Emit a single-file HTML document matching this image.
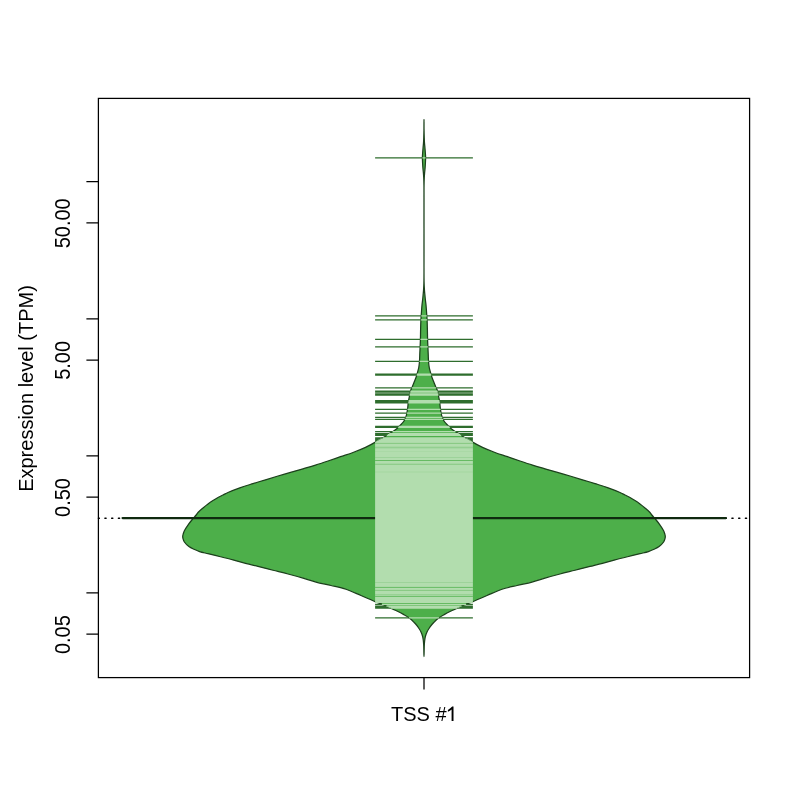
<!DOCTYPE html>
<html><head><meta charset="utf-8"><style>
html,body{margin:0;padding:0;background:#fff;width:800px;height:800px;overflow:hidden}
svg{display:block;will-change:transform}
text{font-family:"Liberation Sans",sans-serif}
</style></head><body>
<svg width="800" height="800" viewBox="0 0 800 800">
<rect width="800" height="800" fill="#fff"/>
<line x1="98.40" y1="518.2" x2="749.6" y2="518.2" stroke="#000" stroke-width="1.35" stroke-linecap="round" stroke-dasharray="1.250 5.492" stroke-dashoffset="0.267"/>
<path d="M424.00,119.30 C424.02,119.30 424.00,126.69 424.05,130.00 C424.09,132.86 424.16,135.65 424.25,138.00 C424.32,139.86 424.38,141.33 424.50,143.00 C424.62,144.67 424.81,146.33 424.95,148.00 C425.09,149.67 425.24,151.38 425.35,153.00 C425.45,154.54 425.58,155.92 425.60,157.50 C425.62,159.24 425.49,161.21 425.40,163.00 C425.32,164.71 425.23,166.33 425.10,168.00 C424.97,169.67 424.74,171.33 424.60,173.00 C424.46,174.67 424.34,176.19 424.25,178.00 C424.14,180.14 424.09,182.23 424.05,185.00 C423.99,189.06 424.03,193.54 424.02,200.00 C424.01,211.80 424.00,235.06 424.02,250.00 C424.03,262.14 423.92,276.06 424.10,283.00 C424.18,286.20 424.30,287.86 424.45,290.00 C424.58,291.81 424.74,293.33 424.90,295.00 C425.06,296.67 425.22,298.33 425.40,300.00 C425.58,301.67 425.83,303.33 426.00,305.00 C426.17,306.67 426.27,308.33 426.40,310.00 C426.52,311.67 426.63,313.33 426.75,315.00 C426.87,316.67 427.00,318.05 427.10,320.00 C427.24,322.76 427.32,326.67 427.40,330.00 C427.48,333.33 427.48,336.33 427.60,340.00 C427.74,344.50 428.09,351.08 428.25,355.00 C428.36,357.53 428.33,359.17 428.50,361.25 C428.67,363.34 428.89,365.54 429.25,367.50 C429.58,369.27 430.04,370.84 430.50,372.50 C430.96,374.17 431.42,375.85 432.00,377.50 C432.59,379.18 433.36,380.88 434.00,382.50 C434.61,384.04 435.17,385.66 435.75,387.00 C436.23,388.11 436.79,388.91 437.20,390.00 C437.66,391.22 438.07,392.85 438.30,394.00 C438.47,394.85 438.45,395.31 438.60,396.25 C438.85,397.81 439.47,400.53 439.75,402.50 C440.00,404.25 440.04,405.84 440.25,407.50 C440.46,409.17 440.67,410.84 441.00,412.50 C441.33,414.17 441.70,416.01 442.25,417.50 C442.73,418.80 443.29,419.92 444.00,421.00 C444.71,422.08 445.59,423.02 446.50,424.00 C447.45,425.03 448.87,426.21 449.60,427.00 C450.04,427.48 450.13,427.76 450.60,428.20 C451.37,428.92 453.07,430.04 454.00,430.70 C454.63,431.15 454.97,431.41 455.60,431.80 C456.43,432.32 457.65,432.90 458.60,433.50 C459.51,434.07 460.49,434.78 461.20,435.30 C461.71,435.67 461.98,435.94 462.50,436.30 C463.23,436.79 464.24,437.39 465.20,437.90 C466.26,438.46 467.67,439.01 468.60,439.50 C469.27,439.86 469.74,440.15 470.30,440.50 C470.87,440.85 471.50,441.26 472.00,441.60 C472.41,441.88 472.53,442.05 473.10,442.40 C474.68,443.39 479.10,445.81 482.50,447.40 C486.33,449.19 490.81,450.94 495.00,452.50 C499.14,454.04 503.34,455.28 507.50,456.70 C511.67,458.12 515.83,459.60 520.00,461.00 C524.16,462.40 528.32,463.80 532.50,465.10 C536.66,466.40 540.83,467.58 545.00,468.80 C549.16,470.02 553.33,471.20 557.50,472.40 C561.67,473.60 565.84,474.77 570.00,476.00 C574.17,477.23 578.33,478.53 582.50,479.80 C586.67,481.07 590.84,482.30 595.00,483.60 C599.17,484.90 603.36,486.13 607.50,487.60 C611.69,489.09 616.80,491.07 620.00,492.50 C622.07,493.42 623.33,494.17 625.00,495.00 C626.67,495.83 628.35,496.59 630.00,497.50 C631.68,498.42 633.35,499.43 635.00,500.50 C636.69,501.59 638.35,502.77 640.00,504.00 C641.69,505.26 643.35,506.60 645.00,508.00 C646.69,509.43 648.80,511.16 650.00,512.50 C650.81,513.41 651.06,514.07 651.80,515.00 C652.84,516.30 654.46,517.93 655.75,519.50 C657.09,521.13 658.43,522.79 659.70,524.60 C661.05,526.52 662.73,528.98 663.60,530.75 C664.20,531.97 664.51,532.99 664.80,534.00 C665.04,534.85 665.27,535.62 665.30,536.40 C665.33,537.15 665.21,537.80 665.00,538.60 C664.72,539.63 664.36,540.86 663.60,542.00 C662.60,543.49 660.74,545.27 659.10,546.50 C657.53,547.68 655.76,548.46 654.00,549.30 C652.20,550.16 650.48,550.92 648.40,551.60 C645.91,552.42 643.08,552.94 640.00,553.70 C636.25,554.63 631.66,555.72 627.50,556.75 C623.33,557.78 619.16,558.81 615.00,559.90 C610.83,560.99 606.67,562.21 602.50,563.30 C598.34,564.39 594.36,565.35 590.00,566.45 C585.23,567.66 580.00,568.99 575.00,570.25 C570.00,571.51 564.99,572.69 560.00,574.00 C554.99,575.31 549.81,576.70 545.00,578.10 C540.50,579.41 536.51,580.90 532.00,582.10 C527.20,583.38 521.99,584.31 517.00,585.50 C511.99,586.69 506.94,587.61 502.00,589.25 C496.94,590.93 491.95,593.39 487.00,595.50 C482.12,597.58 476.37,600.20 472.50,601.80 C469.95,602.85 467.85,603.62 466.10,604.30 C464.88,604.77 464.26,604.96 463.00,605.50 C460.94,606.38 457.48,608.10 455.00,609.25 C452.86,610.24 450.89,611.05 449.00,612.00 C447.24,612.89 445.66,613.80 444.00,614.75 C442.32,615.71 440.36,616.81 439.00,617.75 C438.00,618.45 437.31,619.02 436.50,619.75 C435.64,620.52 434.82,621.39 434.00,622.25 C433.16,623.14 432.31,624.00 431.50,625.00 C430.63,626.07 429.76,627.31 429.00,628.50 C428.26,629.65 427.58,630.77 427.00,632.00 C426.41,633.27 425.88,634.65 425.50,636.00 C425.13,637.32 424.95,638.59 424.75,640.00 C424.53,641.57 424.42,642.99 424.30,645.00 C424.12,648.04 424.10,656.50 424.00,656.50 C423.90,656.50 423.88,648.04 423.70,645.00 C423.58,642.99 423.47,641.57 423.25,640.00 C423.05,638.59 422.87,637.32 422.50,636.00 C422.12,634.65 421.59,633.27 421.00,632.00 C420.42,630.77 419.74,629.65 419.00,628.50 C418.24,627.31 417.37,626.07 416.50,625.00 C415.69,624.00 414.84,623.14 414.00,622.25 C413.18,621.39 412.36,620.52 411.50,619.75 C410.69,619.02 410.00,618.45 409.00,617.75 C407.64,616.81 405.68,615.71 404.00,614.75 C402.34,613.80 400.76,612.89 399.00,612.00 C397.11,611.05 395.14,610.24 393.00,609.25 C390.52,608.10 387.06,606.38 385.00,605.50 C383.74,604.96 383.12,604.77 381.90,604.30 C380.15,603.62 378.05,602.85 375.50,601.80 C371.63,600.20 365.88,597.58 361.00,595.50 C356.05,593.39 351.06,590.93 346.00,589.25 C341.06,587.61 336.01,586.69 331.00,585.50 C326.01,584.31 320.80,583.38 316.00,582.10 C311.49,580.90 307.50,579.41 303.00,578.10 C298.19,576.70 293.01,575.31 288.00,574.00 C283.01,572.69 278.00,571.51 273.00,570.25 C268.00,568.99 262.77,567.66 258.00,566.45 C253.64,565.35 249.66,564.39 245.50,563.30 C241.33,562.21 237.17,560.99 233.00,559.90 C228.84,558.81 224.67,557.78 220.50,556.75 C216.34,555.72 211.75,554.63 208.00,553.70 C204.92,552.94 202.09,552.42 199.60,551.60 C197.52,550.92 195.80,550.16 194.00,549.30 C192.24,548.46 190.47,547.68 188.90,546.50 C187.26,545.27 185.40,543.49 184.40,542.00 C183.64,540.86 183.28,539.63 183.00,538.60 C182.79,537.80 182.67,537.15 182.70,536.40 C182.73,535.62 182.96,534.85 183.20,534.00 C183.49,532.99 183.80,531.97 184.40,530.75 C185.27,528.98 186.95,526.52 188.30,524.60 C189.57,522.79 190.91,521.13 192.25,519.50 C193.54,517.93 195.16,516.30 196.20,515.00 C196.94,514.07 197.19,513.41 198.00,512.50 C199.20,511.16 201.31,509.43 203.00,508.00 C204.65,506.60 206.31,505.26 208.00,504.00 C209.65,502.77 211.31,501.59 213.00,500.50 C214.65,499.43 216.32,498.42 218.00,497.50 C219.65,496.59 221.33,495.83 223.00,495.00 C224.67,494.17 225.93,493.42 228.00,492.50 C231.20,491.07 236.31,489.09 240.50,487.60 C244.64,486.13 248.83,484.90 253.00,483.60 C257.16,482.30 261.33,481.07 265.50,479.80 C269.67,478.53 273.83,477.23 278.00,476.00 C282.16,474.77 286.33,473.60 290.50,472.40 C294.67,471.20 298.84,470.02 303.00,468.80 C307.17,467.58 311.34,466.40 315.50,465.10 C319.68,463.80 323.84,462.40 328.00,461.00 C332.17,459.60 336.33,458.12 340.50,456.70 C344.66,455.28 348.86,454.04 353.00,452.50 C357.19,450.94 361.67,449.19 365.50,447.40 C368.90,445.81 373.32,443.39 374.90,442.40 C375.47,442.05 375.59,441.88 376.00,441.60 C376.50,441.26 377.13,440.85 377.70,440.50 C378.26,440.15 378.73,439.86 379.40,439.50 C380.33,439.01 381.74,438.46 382.80,437.90 C383.76,437.39 384.77,436.79 385.50,436.30 C386.02,435.94 386.29,435.67 386.80,435.30 C387.51,434.78 388.49,434.07 389.40,433.50 C390.35,432.90 391.57,432.32 392.40,431.80 C393.03,431.41 393.37,431.15 394.00,430.70 C394.93,430.04 396.63,428.92 397.40,428.20 C397.87,427.76 397.96,427.48 398.40,427.00 C399.13,426.21 400.55,425.03 401.50,424.00 C402.41,423.02 403.29,422.08 404.00,421.00 C404.71,419.92 405.27,418.80 405.75,417.50 C406.30,416.01 406.67,414.17 407.00,412.50 C407.33,410.84 407.54,409.17 407.75,407.50 C407.96,405.84 408.00,404.25 408.25,402.50 C408.53,400.53 409.15,397.81 409.40,396.25 C409.55,395.31 409.53,394.85 409.70,394.00 C409.93,392.85 410.34,391.22 410.80,390.00 C411.21,388.91 411.77,388.11 412.25,387.00 C412.83,385.66 413.39,384.04 414.00,382.50 C414.64,380.88 415.41,379.18 416.00,377.50 C416.58,375.85 417.04,374.17 417.50,372.50 C417.96,370.84 418.42,369.27 418.75,367.50 C419.11,365.54 419.33,363.34 419.50,361.25 C419.67,359.17 419.64,357.53 419.75,355.00 C419.91,351.08 420.26,344.50 420.40,340.00 C420.52,336.33 420.52,333.33 420.60,330.00 C420.68,326.67 420.76,322.76 420.90,320.00 C421.00,318.05 421.13,316.67 421.25,315.00 C421.37,313.33 421.48,311.67 421.60,310.00 C421.73,308.33 421.83,306.67 422.00,305.00 C422.17,303.33 422.42,301.67 422.60,300.00 C422.78,298.33 422.94,296.67 423.10,295.00 C423.26,293.33 423.42,291.81 423.55,290.00 C423.70,287.86 423.82,286.20 423.90,283.00 C424.08,276.06 423.97,262.14 423.98,250.00 C424.00,235.06 423.99,211.80 423.98,200.00 C423.97,193.54 424.01,189.06 423.95,185.00 C423.91,182.23 423.86,180.14 423.75,178.00 C423.66,176.19 423.54,174.67 423.40,173.00 C423.26,171.33 423.03,169.67 422.90,168.00 C422.77,166.33 422.68,164.71 422.60,163.00 C422.51,161.21 422.38,159.24 422.40,157.50 C422.42,155.92 422.55,154.54 422.65,153.00 C422.76,151.38 422.91,149.67 423.05,148.00 C423.19,146.33 423.38,144.67 423.50,143.00 C423.62,141.33 423.68,139.86 423.75,138.00 C423.84,135.65 423.91,132.86 423.95,130.00 C424.00,126.69 423.98,119.30 424.00,119.30 Z" fill="#4DAF4A" stroke="#1C401C" stroke-width="1.25" stroke-linejoin="round"/>
<line x1="122.6" y1="518.1" x2="725.9" y2="518.1" stroke="#0F2A0F" stroke-width="2.3" stroke-linecap="round"/>
<path d="M375.10,157.80H422.41M425.59,157.80H472.90M375.10,315.80H421.19M426.81,315.80H472.90M375.10,319.80H420.91M427.09,319.80H472.90M375.10,339.40H420.41M427.59,339.40H472.90M375.10,346.90H420.10M427.90,346.90H472.90M375.10,361.30H419.49M428.51,361.30H472.90M375.10,374.00H417.05M430.95,374.00H472.90M375.10,375.10H416.72M431.28,375.10H472.90M375.10,387.90H411.81M436.19,387.90H472.90M375.10,391.00H410.52M437.48,391.00H472.90M375.10,392.20H410.19M437.81,392.20H472.90M375.10,393.90H409.73M438.27,393.90H472.90M375.10,395.00H409.57M438.43,395.00H472.90M375.10,400.70H408.58M439.42,400.70H472.90M375.10,401.80H408.38M439.62,401.80H472.90M375.10,402.90H408.21M439.79,402.90H472.90M375.10,409.30H407.48M440.52,409.30H472.90M375.10,413.00H406.88M441.12,413.00H472.90M375.10,417.40H405.77M442.23,417.40H472.90M375.10,419.30H404.85M443.15,419.30H472.90M375.10,426.30H399.12M448.88,426.30H472.90M375.10,427.30H398.15M449.85,427.30H472.90M375.10,431.70H392.55M455.45,431.70H472.90M375.10,433.60H389.26M458.74,433.60H472.90M375.10,434.50H387.96M460.04,434.50H472.90M375.10,435.30H386.80M461.20,435.30H472.90M375.10,437.90H382.80M465.20,437.90H472.90M375.10,439.00H380.46M467.54,439.00H472.90M375.10,440.00H378.55M469.45,440.00H472.90M375.10,441.00H376.93M471.07,441.00H472.90M375.10,441.80H375.73M472.27,441.80H472.90M375.10,604.30H381.90M466.10,604.30H472.90M375.10,606.20H386.49M461.51,606.20H472.90M375.10,607.20H388.63M459.37,607.20H472.90M375.10,608.20H390.76M457.24,608.20H472.90M375.10,617.75H409.00M439.00,617.75H472.90" stroke="#2E6D2D" stroke-width="1.25" fill="none"/>
<path d="M422.41,157.80H425.59M421.19,315.80H426.81M420.91,319.80H427.09M420.41,339.40H427.59M420.10,346.90H427.90M419.49,361.30H428.51M417.05,374.00H430.95M416.72,375.10H431.28M411.81,387.90H436.19M410.52,391.00H437.48M410.19,392.20H437.81M409.73,393.90H438.27M409.57,395.00H438.43M408.58,400.70H439.42M408.38,401.80H439.62M408.21,402.90H439.79M407.48,409.30H440.52M406.88,413.00H441.12M405.77,417.40H442.23M404.85,419.30H443.15M399.12,426.30H448.88M398.15,427.30H449.85M392.55,431.70H455.45M389.26,433.60H458.74M387.96,434.50H460.04M386.80,435.30H461.20M382.80,437.90H465.20M380.46,439.00H467.54M378.55,440.00H469.45M376.93,441.00H471.07M375.73,441.80H472.27M381.90,604.30H466.10M386.49,606.20H461.51M388.63,607.20H459.37M390.76,608.20H457.24M409.00,617.75H439.00" stroke="#B2DDAE" stroke-width="1.25" fill="none"/>
<rect x="375.10" y="442.00" width="97.80" height="161.00" fill="#B2DDAE"/>
<path d="M375.10,443.40H472.90" stroke="#4DAF4A" stroke-width="1" stroke-opacity="0.45"/>
<path d="M375.10,447.20H472.90" stroke="#4DAF4A" stroke-width="1" stroke-opacity="0.30"/>
<path d="M375.10,448.00H472.90" stroke="#4DAF4A" stroke-width="1" stroke-opacity="0.20"/>
<path d="M375.10,451.50H472.90" stroke="#4DAF4A" stroke-width="1" stroke-opacity="0.08"/>
<path d="M375.10,457.50H472.90" stroke="#4DAF4A" stroke-width="1" stroke-opacity="0.20"/>
<path d="M375.10,460.50H472.90" stroke="#4DAF4A" stroke-width="1" stroke-opacity="0.75"/>
<path d="M375.10,464.25H472.90" stroke="#4DAF4A" stroke-width="1" stroke-opacity="0.45"/>
<path d="M375.10,472.00H472.90" stroke="#4DAF4A" stroke-width="1" stroke-opacity="0.12"/>
<path d="M375.10,582.50H472.90" stroke="#4DAF4A" stroke-width="1" stroke-opacity="0.20"/>
<path d="M375.10,587.40H472.90" stroke="#4DAF4A" stroke-width="1" stroke-opacity="0.75"/>
<path d="M375.10,590.40H472.90" stroke="#4DAF4A" stroke-width="1" stroke-opacity="0.45"/>
<path d="M375.10,594.70H472.90" stroke="#4DAF4A" stroke-width="1" stroke-opacity="0.30"/>
<path d="M375.10,596.40H472.90" stroke="#4DAF4A" stroke-width="1" stroke-opacity="0.75"/>
<rect x="98.4" y="98.4" width="651.2" height="579.2" fill="none" stroke="#000" stroke-width="1.25"/>
<path d="M86.4,634.22H98.4M86.4,592.95H98.4M86.4,497.12H98.4M86.4,455.85H98.4M86.4,360.02H98.4M86.4,318.75H98.4M86.4,222.92H98.4M86.4,181.65H98.4M424,677.6V689.6" stroke="#000" stroke-width="1.25" fill="none"/>
<text font-family="Liberation Sans, sans-serif" font-size="20" fill="#000" text-anchor="middle" transform="translate(69.8,634.62) rotate(-90) scale(1,1.06)">0.05</text>
<text font-family="Liberation Sans, sans-serif" font-size="20" fill="#000" text-anchor="middle" transform="translate(69.8,497.52) rotate(-90) scale(1,1.06)">0.50</text>
<text font-family="Liberation Sans, sans-serif" font-size="20" fill="#000" text-anchor="middle" transform="translate(69.8,360.42) rotate(-90) scale(1,1.06)">5.00</text>
<text font-family="Liberation Sans, sans-serif" font-size="20" fill="#000" text-anchor="middle" transform="translate(69.8,223.32) rotate(-90) scale(1,1.06)">50.00</text>
<text font-family="Liberation Sans, sans-serif" font-size="20" fill="#000" text-anchor="middle" transform="translate(33.35,388.5) rotate(-90) scale(1,1.03)">Expression level (TPM)</text>
<text font-family="Liberation Sans, sans-serif" font-size="20" fill="#000" x="391.0" y="721">TSS #</text>
<path d="M451.6,720.9 L453.5,720.9 L453.5,706.6 L452.2,706.6 Q450.5,708.6 447.9,709.9 L447.9,711.7 Q450.2,710.8 451.6,709.6 Z" fill="#000"/>
</svg>
</body></html>
